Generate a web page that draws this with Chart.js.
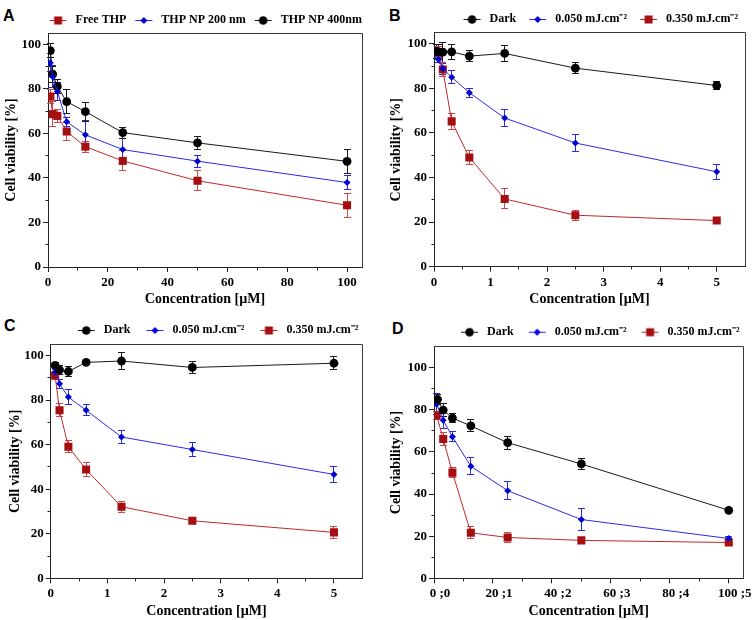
<!DOCTYPE html>
<html><head><meta charset="utf-8">
<script src="https://cdn.jsdelivr.net/npm/chart.js@4/dist/chart.umd.min.js"></script>
<style>
html,body{margin:0;padding:0;background:#fff;}
body{width:753px;height:620px;position:relative;overflow:hidden;}
.box{position:absolute;}
.lbl{position:absolute;font:bold 16px "Liberation Sans",Arial,sans-serif;line-height:16px;color:#000;}
</style></head><body>
<div class="lbl" style="left:3px;top:8px">A</div>
<div class="lbl" style="left:389px;top:8px">B</div>
<div class="lbl" style="left:4px;top:318px">C</div>
<div class="lbl" style="left:392px;top:321px">D</div>
<div class="box" style="left:0;top:0;width:376px;height:312px"><canvas id="cA"></canvas></div>
<div class="box" style="left:376px;top:0;width:377px;height:312px"><canvas id="cB"></canvas></div>
<div class="box" style="left:0;top:310px;width:376px;height:310px"><canvas id="cC"></canvas></div>
<div class="box" style="left:376px;top:310px;width:377px;height:310px"><canvas id="cD"></canvas></div>
<script>
// ---------- DATA ----------
// Panel A
const concA = [0.78, 1.56, 3.125, 6.25, 12.5, 25, 50, 100];
const freeTHP = [76.5, 68.6, 67.8, 60.8, 54.0, 47.6, 38.7, 27.7];
const freeTHPErr = [3, 5.5, 3, 4, 2.5, 4.5, 4.5, 5.5];
const np200 = [91.7, 85.4, 78.7, 65.2, 59.3, 52.7, 47.5, 37.9];
const np200Err = [4, 5, 4, 2, 6.5, 5, 2.7, 3.3];
const np400 = [97.1, 86.5, 81.0, 74.2, 69.7, 60.3, 55.7, 47.4];
const np400Err = [3, 3.5, 3, 5.5, 4.3, 2.5, 3, 5.5];
// Panel B
const concBdark = [0.039, 0.078, 0.156, 0.3125, 0.625, 1.25, 2.5, 5];
const concB = [0.078, 0.156, 0.3125, 0.625, 1.25, 2.5, 5];
const darkB = [96.6, 96.5, 96.3, 96.4, 94.5, 95.7, 89.1, 81.3];
const darkBErr = [3, 3, 4.5, 3.5, 2.5, 3.7, 2.5, 2];
const low050B = [93.0, 88.9, 85.0, 78.1, 66.7, 55.5, 42.6];
const low050BErr = [1.5, 2.5, 3, 2, 4, 4, 3.4];
const high350B = [96.3, 88.5, 65.2, 49.0, 30.4, 23.1, 20.7];
const high350BErr = [2.5, 3, 3.5, 3, 4.5, 2.3, 1];
// Panel C
const concC = [0.078, 0.156, 0.3125, 0.625, 1.25, 2.5, 5];
const darkC = [95.5, 93.5, 92.8, 96.9, 97.5, 94.6, 96.5];
const darkCErr = [1.5, 2, 2.3, 1, 4, 2.5, 3];
const low050C = [92.5, 87.3, 81.3, 75.4, 63.4, 57.8, 46.6];
const low050CErr = [1, 2, 3.5, 2.5, 3, 3.3, 3.5];
const high350C = [91.0, 75.4, 59.0, 48.8, 32.1, 25.8, 20.6];
const high350CErr = [2, 3, 2.7, 3, 2.5, 1, 2.8];
// Panel D
const concDdark = [1.2, 3.125, 6.25, 12.5, 25, 50, 100];
const concD = [0.9, 3.125, 6.25, 12.5, 25, 50, 100];
const darkD = [85.0, 79.9, 76.1, 72.4, 64.4, 54.3, 32.3];
const darkDErr = [2.5, 3, 2.3, 2.8, 3, 2.7, 1];
const low050D = [82.7, 75.1, 67.2, 53.2, 41.6, 27.9, 18.9];
const low050DErr = [5, 4, 2.3, 4, 4.3, 5.3, 0.8];
const high350D = [77.3, 66.2, 50.2, 21.6, 19.4, 18.0, 17.0];
const high350DErr = [2, 3, 2.3, 2.8, 2.3, 1, 1.3];
// Labels and ticks
const legendA = ['Free THP', 'THP NP 200 nm', 'THP NP 400nm'];
const legendLight = ['Dark', '0.050 mJ.cm\u207B\u00B2', '0.350 mJ.cm\u207B\u00B2'];
const yTicks = [0, 20, 40, 60, 80, 100];
const yMinor = [10, 30, 50, 70, 90];
const xTicks100 = [0, 20, 40, 60, 80, 100];
const xMinor100 = [10, 30, 50, 70, 90];
const xTicks5 = [0, 1, 2, 3, 4, 5];
const xMinor5 = [0.5, 1.5, 2.5, 3.5, 4.5];
const xLabelsD = ['0 ;0', '20 ;1', '40 ;2', '60 ;3', '80 ;4', '100 ;5'];
const xTitle = 'Concentration [\u00B5M]';
const yTitle = 'Cell viability [%]';

// ---------- STYLE ----------
const SERIF = "'Liberation Serif','Times New Roman',serif";
const RED = {fill:'#a50f12', line:'#c0282a', err:'#c84a4a', shape:'rect', r:5.7};
const BLUE = {fill:'#0000d0', line:'#2a2ae6', err:'#2a2ae6', shape:'rectRot', r:3.5};
const BLACK = {fill:'#000000', line:'#1a1a1a', err:'#1a1a1a', shape:'circle', r:4.4};

function markerImg(st, a, W){
  const c = document.createElement('canvas'); c.width = W; c.height = 12;
  const g = c.getContext('2d');
  g.strokeStyle = st.line; g.lineWidth = 1;
  g.beginPath(); g.moveTo(a, 6.5); g.lineTo(a + 17, 6.5); g.stroke();
  const cx = a + 8.5, cy = 6.5; g.fillStyle = st.fill;
  if (st.shape === 'rect') g.fillRect(cx - 4, cy - 4, 8, 8);
  else if (st.shape === 'circle') { g.beginPath(); g.arc(cx, cy, 4.3, 0, 2*Math.PI); g.fill(); }
  else { g.beginPath(); g.moveTo(cx, cy-3.6); g.lineTo(cx+3.6, cy); g.lineTo(cx, cy+3.6); g.lineTo(cx-3.6, cy); g.closePath(); g.fill(); }
  return c;
}

const errorBars = {
  id: 'errorBars',
  beforeDatasetsDraw(chart){
    const ctx = chart.ctx, xs = chart.scales.x, ys = chart.scales.y;
    chart.data.datasets.forEach(ds => {
      if (!ds.errors) return;
      ctx.save(); ctx.strokeStyle = ds.errorColor; ctx.lineWidth = 1;
      ds.data.forEach((pt, j) => {
        const e = ds.errors[j];
        const x = Math.round(xs.getPixelForValue(pt.x) - 0.5) + 0.5;
        const y1 = Math.round(ys.getPixelForValue(pt.y + e) - 0.5) + 0.5;
        const y2 = Math.round(ys.getPixelForValue(pt.y - e) - 0.5) + 0.5;
        ctx.beginPath();
        ctx.moveTo(x, y1); ctx.lineTo(x, y2);
        ctx.moveTo(x - 3.5, y1); ctx.lineTo(x + 3.5, y1);
        ctx.moveTo(x - 3.5, y2); ctx.lineTo(x + 3.5, y2);
        ctx.stroke();
      });
      ctx.restore();
    });
  }
};

const frame = {
  id: 'frame',
  afterDraw(chart, args, opts){
    const ctx = chart.ctx, a = chart.chartArea, xs = chart.scales.x, ys = chart.scales.y;
    const al = v => Math.round(v - 0.5) + 0.5;
    ctx.save(); ctx.lineWidth = 1; ctx.strokeStyle = '#3a3a3a';
    ctx.beginPath();
    ctx.moveTo(al(a.left), al(a.top)); ctx.lineTo(al(a.right), al(a.top)); ctx.lineTo(al(a.right), al(a.bottom));
    ctx.stroke();
    ctx.strokeStyle = '#222';
    ctx.beginPath();
    (opts.xMinor || []).forEach(v => { const x = al(xs.getPixelForValue(v)); ctx.moveTo(x, al(a.bottom)); ctx.lineTo(x, al(a.bottom) + 3); });
    (opts.yMinor || []).forEach(v => { const y = al(ys.getPixelForValue(v)); ctx.moveTo(al(a.left) - 3, y); ctx.lineTo(al(a.left), y); });
    ctx.stroke();
    ctx.restore();
  }
};

function makeChart(id, cfg){
  const datasets = cfg.series.map(s => ({
    label: s.label,
    data: s.x.map((x, i) => ({x: x, y: s.y[i]})),
    errors: s.err, errorColor: s.st.err,
    borderColor: s.st.line, backgroundColor: s.st.fill,
    pointBackgroundColor: s.st.fill, pointBorderColor: s.st.fill, pointBorderWidth: 0,
    pointStyle: s.st.shape, pointRadius: s.st.r, pointHoverRadius: s.st.r,
    borderWidth: 1, tension: 0, fill: false,
    legendImg: markerImg(s.st, cfg.legA, cfg.legW)
  }));
  const tickFont = {family: SERIF, weight: 'bold', size: 13};
  const titleFont = {family: SERIF, weight: 'bold', size: 14};
  return new Chart(document.getElementById(id), {
    type: 'line',
    data: {datasets},
    options: {
      responsive: true, maintainAspectRatio: false, animation: false,
      layout: {padding: cfg.pad},
      plugins: {
        legend: {
          align: 'end', maxHeight: cfg.legMaxH,
          labels: {
            usePointStyle: true, pointStyleWidth: cfg.legW, padding: cfg.legP,
            color: '#000', font: {family: SERIF, weight: 'bold', size: 12},
            generateLabels(chart){
              return chart.data.datasets.map((ds, i) => ({
                text: ds.label, pointStyle: ds.legendImg, datasetIndex: i, hidden: false,
                fontColor: '#000', lineWidth: 0, strokeStyle: 'rgba(0,0,0,0)', fillStyle: 'rgba(0,0,0,0)'
              }));
            }
          }
        },
        tooltip: {enabled: false},
        frame: {xMinor: cfg.xMinor, yMinor: yMinor}
      },
      scales: {
        x: {
          type: 'linear', min: 0, max: cfg.xMax,
          afterBuildTicks: s => { s.ticks = cfg.xTicks.map(v => ({value: v})); },
          afterFit: s => { s.height = cfg.xH; },
          grid: {display: true, drawOnChartArea: false, drawTicks: true, tickLength: 5, tickColor: '#222', color: '#222'},
          border: {display: true, color: '#222', width: 1},
          ticks: {
            font: tickFont, color: '#000', padding: 3, maxRotation: 0, autoSkip: false,
            labelOffset: cfg.xLabelOffset || 0,
            callback: (v, i) => cfg.xLabels ? cfg.xLabels[i] : String(v)
          },
          title: {display: true, text: xTitle, font: titleFont, color: '#000', padding: {top: 0, bottom: cfg.xTitlePad}}
        },
        y: {
          type: 'linear', min: 0, max: cfg.yMax,
          afterBuildTicks: s => { s.ticks = yTicks.map(v => ({value: v})); },
          afterFit: s => { s.width = cfg.yW; },
          grid: {display: true, drawOnChartArea: false, drawTicks: true, tickLength: 5, tickColor: '#222', color: '#222'},
          border: {display: true, color: '#222', width: 1},
          ticks: {font: tickFont, color: '#000', padding: 2, autoSkip: false},
          title: {display: true, text: yTitle, font: titleFont, color: '#000', padding: {top: cfg.yTitlePad, bottom: 0}}
        }
      }
    },
    plugins: [errorBars, frame]
  });
}

makeChart('cA', {
  series: [
    {label: legendA[0], x: concA, y: freeTHP, err: freeTHPErr, st: RED},
    {label: legendA[1], x: concA, y: np200, err: np200Err, st: BLUE},
    {label: legendA[2], x: concA, y: np400, err: np400Err, st: BLACK}
  ],
  pad: {left: 0, right: 14, top: 14, bottom: 0}, yW: 48, xH: 45, legMaxH: 19, legP: 0, legA: 9, legW: 29,
  yTitlePad: 3, xTitlePad: 4, xMax: 105, yMax: 105, xTicks: xTicks100, xMinor: xMinor100
});
makeChart('cB', {
  series: [
    {label: legendLight[0], x: concBdark, y: darkB, err: darkBErr, st: BLACK},
    {label: legendLight[1], x: concB, y: low050B, err: low050BErr, st: BLUE},
    {label: legendLight[2], x: concB, y: high350B, err: high350BErr, st: RED}
  ],
  pad: {left: 0, right: 8, top: 6, bottom: 0}, yW: 58, xH: 45.3, legMaxH: 26.7, legP: 7, legA: 6, legW: 26,
  yTitlePad: 11.6, xTitlePad: 4, xMax: 5.5, yMax: 105, xTicks: xTicks5, xMinor: xMinor5
});
makeChart('cC', {
  series: [
    {label: legendLight[0], x: concC, y: darkC, err: darkCErr, st: BLACK},
    {label: legendLight[1], x: concC, y: low050C, err: low050CErr, st: BLUE},
    {label: legendLight[2], x: concC, y: high350C, err: high350CErr, st: RED}
  ],
  pad: {left: 0, right: 13.7, top: 10, bottom: 0}, yW: 50.7, xH: 41.7, legMaxH: 24.3, legP: 4, legA: 12, legW: 32,
  yTitlePad: 7.3, xTitlePad: 0, xMax: 5.5, yMax: 105, xTicks: xTicks5, xMinor: xMinor5
});
makeChart('cD', {
  series: [
    {label: legendLight[0], x: concDdark, y: darkD, err: darkDErr, st: BLACK},
    {label: legendLight[1], x: concD, y: low050D, err: low050DErr, st: BLUE},
    {label: legendLight[2], x: concD, y: high350D, err: high350DErr, st: RED}
  ],
  pad: {left: 0, right: 9.5, top: 11.7, bottom: 0}, yW: 58, xH: 41.7, legMaxH: 25, legP: 4, legA: 11, legW: 31,
  yTitlePad: 12.3, xTitlePad: 0, xMax: 105, yMax: 110, xTicks: xTicks100, xMinor: xMinor100,
  xLabels: xLabelsD, xLabelOffset: 6
});
</script>
</body></html>
